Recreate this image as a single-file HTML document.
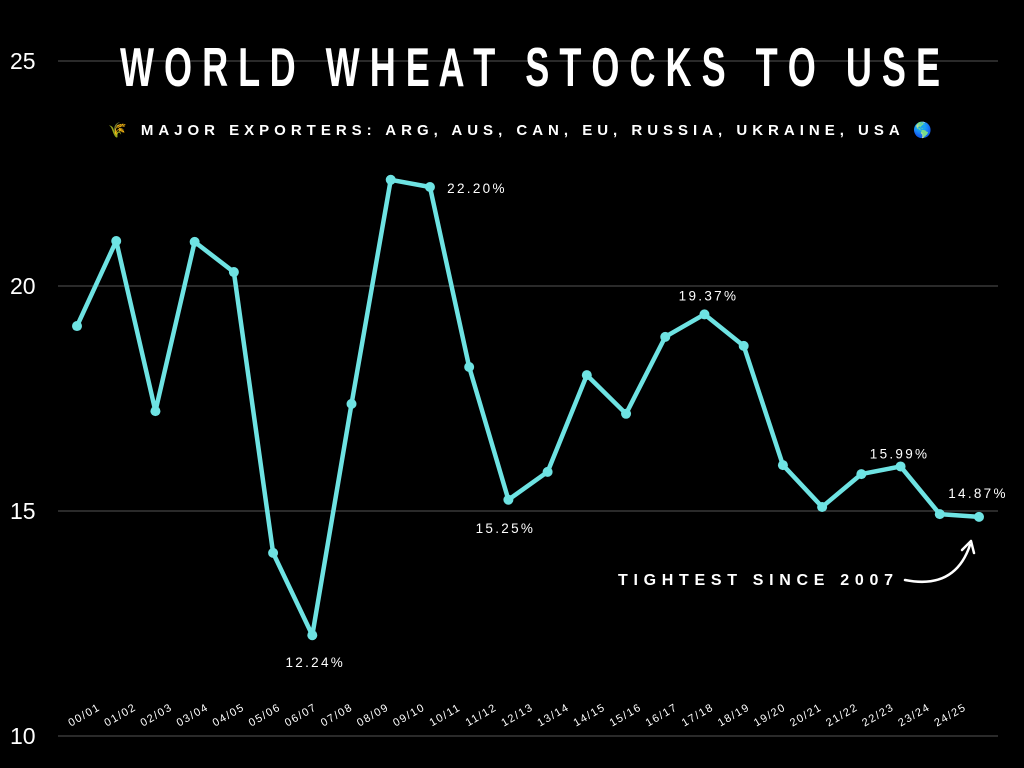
<!DOCTYPE html>
<html><head><meta charset="utf-8"><style>
html,body{margin:0;padding:0;background:#000;width:1024px;height:768px;overflow:hidden}
svg{display:block}
text{font-family:"Liberation Sans","Noto Sans CJK SC",sans-serif}
</style></head><body>
<svg id="chart" width="1024" height="768">
<g id="grid"></g>
<text x="120" y="86" fill="#fff" font-size="55" font-weight="bold" textLength="820" lengthAdjust="spacingAndGlyphs" style="white-space:pre" xml:space="preserve">W O R L D   W H E A T   S T O C K S   T O   U S E</text>
<text x="108" y="135" fill="#fff" font-size="15" font-weight="bold" textLength="824" lengthAdjust="spacing">🌾 MAJOR EXPORTERS: ARG, AUS, CAN, EU, RUSSIA, UKRAINE, USA 🌎</text>
<g id="xlabels"></g><g id="series"></g><g id="annots"></g>
<text x="618" y="585" fill="#fff" font-size="16" font-weight="bold" textLength="275" lengthAdjust="spacing">TIGHTEST SINCE 2007</text>
<path d="M905 580 Q955 590 970 545" fill="none" stroke="#fff" stroke-width="2.5" stroke-linecap="round"/>
<path d="M962 550 L971 541 L974 553" fill="none" stroke="#fff" stroke-width="2.5" stroke-linecap="round" stroke-linejoin="round"/>
</svg>
<script>
const categories=["00/01","01/02","02/03","03/04","04/05","05/06","06/07","07/08","08/09","09/10","10/11","11/12","12/13","13/14","14/15","15/16","16/17","17/18","18/19","19/20","20/21","21/22","22/23","23/24","24/25"];
const values=[19.11,21.0,17.22,20.98,20.31,14.07,12.24,17.38,22.36,22.20,18.2,15.25,15.87,18.02,17.16,18.87,19.37,18.67,16.02,15.09,15.82,15.99,14.93,14.87];
const yTicks=[10,15,20,25];
const annotIdx=[6,9,11,16,21,23];
const annotDx=[3,47,-3,4,-1,-1];
const annotDy=[27,1,28,-19,-13,-24];
const NS="http://www.w3.org/2000/svg";
const y=v=>736-(v-10)*45;
const xp=i=>77+i*(979-77)/(values.length-1);
const xl=i=>86+i*(952-86)/(categories.length-1);
function mk(t,a,p){const e=document.createElementNS(NS,t);for(const k in a)e.setAttribute(k,a[k]);p.appendChild(e);return e;}
const grid=document.getElementById('grid');
yTicks.forEach(v=>{
 const l=mk('line',{x1:58,x2:998,y1:y(v),y2:y(v),stroke:'#555','stroke-width':1},grid);
 
 
 const t=mk('text',{x:10,y:y(v)+8,fill:'#fff','font-size':23},grid);t.textContent=v;
 
 
});
const xg=document.getElementById('xlabels');
categories.forEach((c,i)=>{
 const t=mk('text',{x:xl(i),y:718,fill:'#fff','font-size':11,'letter-spacing':1.5,'text-anchor':'middle',transform:`rotate(-30 ${xl(i)} 718)`},xg);t.textContent=c;
 
 
});
const s=document.getElementById('series');
const pl=mk('polyline',{points:values.map((v,i)=>xp(i)+','+y(v)).join(' '),fill:'none',stroke:'#6ee3e3','stroke-width':4.5,'stroke-linejoin':'round'},s);


values.forEach((v,i)=>{
 const c=mk('circle',{cx:xp(i),cy:y(v),r:5,fill:'#6ee3e3'},s);
 
 
});
const ag=document.getElementById('annots');
annotIdx.forEach((i,k)=>{
 const t=mk('text',{x:xp(i)+annotDx[k],y:y(values[i])+annotDy[k]+5,fill:'#fff','font-size':13.5,'letter-spacing':2.3,'text-anchor':'middle'},ag);
 t.textContent=values[i].toFixed(2)+'%';
 
 
});
</script>
</body></html>
